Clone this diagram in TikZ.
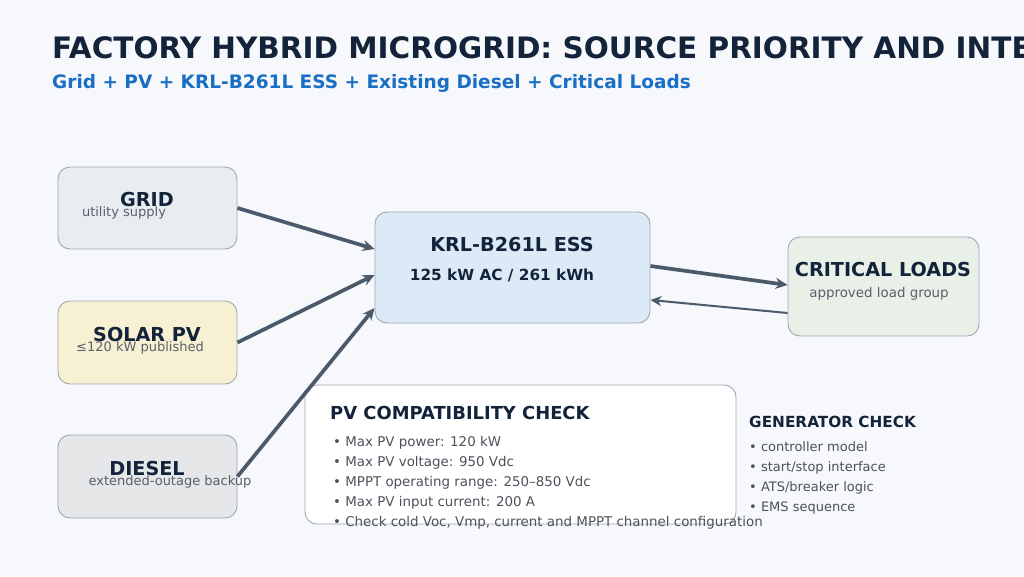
\documentclass[tikz,border=0pt]{standalone}
\usepackage{fontspec}
\setmainfont{DejaVu Sans}
\usetikzlibrary{arrows.meta}
\definecolor{bg}{HTML}{F6F8FB}
\definecolor{navy}{HTML}{13233A}
\definecolor{subblue}{HTML}{1A6FC4}
\definecolor{muted}{HTML}{59606A}
\definecolor{edge}{HTML}{9EA8B3}
\definecolor{arrowc}{HTML}{4A5A6B}
\definecolor{gridf}{HTML}{E8EDF2}
\definecolor{pvf}{HTML}{F7F0D2}
\definecolor{dieself}{HTML}{E6E7E9}
\definecolor{essf}{HTML}{DCE9F7}
\definecolor{loadf}{HTML}{E9F0E8}
\tikzset{
  box/.style={draw=edge, line width=0.9pt, rounded corners=12pt, minimum width=#1, inner sep=0pt},
  hd/.style={font=\fontsize{19.2}{22}\selectfont\bfseries, text=navy, inner sep=0pt},
  sub/.style={font=\fontsize{13}{15}\selectfont, text=muted, inner sep=0pt},
  bul/.style={font=\fontsize{13}{15}\selectfont, text=muted!85!black, inner sep=0pt, anchor=base west},
  flow/.style={draw=arrowc, line width=3.7pt, -{Stealth[length=12pt,width=11pt]}},
  ret/.style={draw=arrowc, line width=2pt, -{Stealth[length=11pt,width=10pt]}},
}
\begin{document}
\begin{tikzpicture}[x=1pt,y=-1pt]
\useasboundingbox (0,0) rectangle (1024,576);
\clip (0,0) rectangle (1024,576);
\fill[bg] (0,0) rectangle (1024,576);
% title
\node[anchor=base west, inner sep=0pt, font=\fontsize{29.5}{33}\selectfont\bfseries, text=navy] (title) at (52,58) {FACTORY HYBRID MICROGRID: SOURCE PRIORITY AND INTEGRATION};
\node[anchor=base west, inner sep=0pt, font=\fontsize{18.5}{21}\selectfont\bfseries, text=subblue] (subtitle) at (52,88) {Grid + PV + KRL-B261L ESS + Existing Diesel + Critical Loads};
% boxes
\node[box=179pt, minimum height=82pt, fill=gridf] (grid) at (147.5,208) {};
\node[box=179pt, minimum height=83pt, fill=pvf] (pv) at (147.5,342.5) {};
\node[box=179pt, minimum height=83pt, fill=dieself] (diesel) at (147.5,476.5) {};
\node[box=275pt, minimum height=111pt, fill=essf] (ess) at (512.5,267.5) {};
\node[box=191pt, minimum height=99pt, fill=loadf] (load) at (883.5,286.5) {};
\node[box=431pt, minimum height=139pt, fill=white] (pvcheck) at (520.5,454.5) {};
% labels
\node[hd] (gridT) at (147,200) {GRID};
\node[sub] (gridS) at (124,213) {utility supply};
\node[hd] (pvT) at (147,335) {SOLAR PV};
\node[sub] (pvS) at (140,347.5) {≤120 kW published};
\node[hd] (dieselT) at (147,469) {DIESEL};
\node[sub] (dieselS) at (170,481.5) {extended-outage backup};
\node[hd] (essT) at (512,245) {KRL-B261L ESS};
\node[font=\fontsize{15.3}{18}\selectfont\bfseries, text=navy, inner sep=0pt] (essS) at (502,275) {125 kW AC / 261 kWh};
\node[hd] (loadT) at (883,270) {CRITICAL LOADS};
\node[font=\fontsize{13.4}{15}\selectfont, text=muted, inner sep=0pt] (loadS) at (879,293.5) {approved load group};
% PV check
\node[anchor=base west, inner sep=0pt, font=\fontsize{17.9}{21}\selectfont\bfseries, text=navy] (pvcT) at (330,419) {PV COMPATIBILITY CHECK};
\node[bul, font=\fontsize{13.4}{15}\selectfont] (b1) at (333,446) {• Max PV power: 120 kW};
\node[bul, font=\fontsize{13.4}{15}\selectfont] (b2) at (333,466) {• Max PV voltage: 950 Vdc};
\node[bul, font=\fontsize{13.4}{15}\selectfont] (b3) at (333,486) {• MPPT operating range: 250–850 Vdc};
\node[bul, font=\fontsize{13.4}{15}\selectfont] (b4) at (333,506) {• Max PV input current: 200 A};
\node[bul, font=\fontsize{13.4}{15}\selectfont] (b5) at (333,526) {• Check cold Voc, Vmp, current and MPPT channel configuration};
% generator check
\node[anchor=base west, inner sep=0pt, font=\fontsize{15.3}{18}\selectfont\bfseries, text=navy] (genT) at (749,427.5) {GENERATOR CHECK};
\node[bul] (g1) at (749,451.5) {• controller model};
\node[bul] (g2) at (749,471.5) {• start/stop interface};
\node[bul] (g3) at (749,491) {• ATS/breaker logic};
\node[bul] (g4) at (749,511) {• EMS sequence};
% arrows
\draw[flow] (grid.east) -- ([yshift=18.5pt]ess.west);
\draw[flow] (pv.east) -- ([yshift=-7.5pt]ess.west);
\draw[flow] (diesel.east) -- ([yshift=-40.5pt]ess.west);
\draw[flow] ([yshift=1.5pt]ess.east) -- ([yshift=1.5pt]load.west);
\draw[ret] ([yshift=-26.5pt]load.west) -- ([yshift=-32.5pt]ess.east);
\end{tikzpicture}
\end{document}
